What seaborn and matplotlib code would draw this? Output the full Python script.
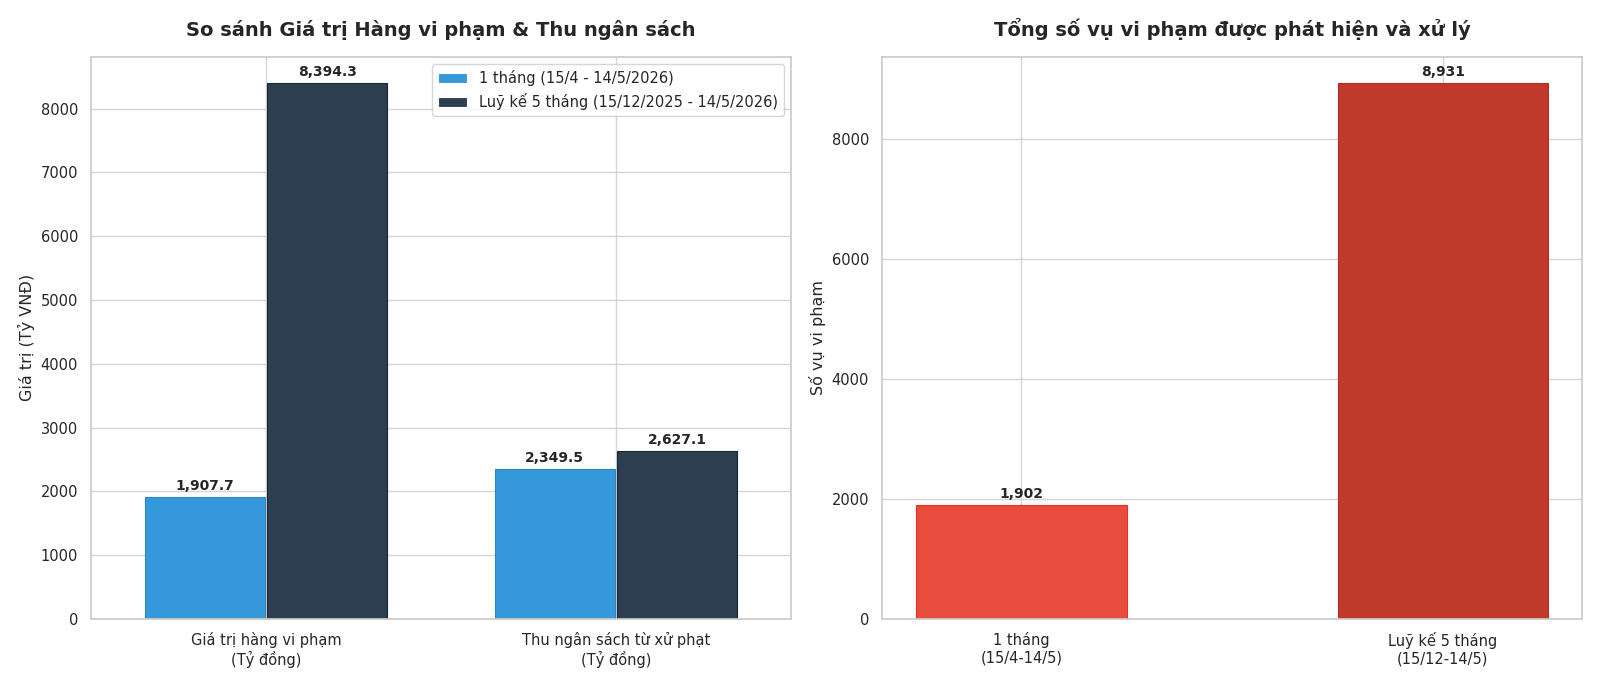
import pandas as pd
import matplotlib.pyplot as plt
import seaborn as sns

# data
categories = ["Giá trị hàng vi phạm\n(Tỷ đồng)", "Thu ngân sách từ xử phạt\n(Tỷ đồng)"]
series_names = ["1 tháng (15/4 - 14/5/2026)", "Luỹ kế 5 tháng (15/12/2025 - 14/5/2026)"]
one_month = [1907.7, 2349.5]
five_months = [8394.3, 2627.1]

case_labels = ["1 tháng\n(15/4-14/5)", "Luỹ kế 5 tháng\n(15/12-14/5)"]
case_counts = [1902, 8931]

sns.set_theme(style="whitegrid")
plt.rcParams['font.family'] = ['DejaVu Sans']

left_df = pd.DataFrame({
    'cat': categories * 2,
    'series': [series_names[0]] * 2 + [series_names[1]] * 2,
    'val': one_month + five_months,
})
right_df = pd.DataFrame({'cat': case_labels, 'val': case_counts})

fig, (ax1, ax2) = plt.subplots(1, 2, figsize=(16, 6.86), dpi=100)

sns.barplot(data=left_df, x='cat', y='val', hue='series', ax=ax1,
            palette=['#3498db', '#2c3e50'], width=0.7, gap=0.02,
            linewidth=0.8, saturation=1)
for patch, ec in zip(ax1.patches, ['#2e86c1', '#2e86c1', '#1a2533', '#1a2533']):
    patch.set_edgecolor(ec)
for c in ax1.containers:
    ax1.bar_label(c, labels=[f"{v:,.1f}" for v in c.datavalues], padding=3,
                  fontsize=10, fontweight='bold')
ax1.set_title("So sánh Giá trị Hàng vi phạm & Thu ngân sách", fontsize=14,
              fontweight='bold', pad=15)
ax1.set_xlabel("")
ax1.set_ylabel("Giá trị (Tỷ VNĐ)", fontsize=11.5)
ax1.set_ylim(0, 8810)
ax1.legend(title=None, loc='upper right', fontsize=10.5)

sns.barplot(data=right_df, x='cat', y='val', hue='cat', ax=ax2,
            palette=['#e74c3c', '#c0392b'], width=0.5, legend=False,
            linewidth=0.8, saturation=1)
for patch, ec in zip(ax2.patches, ['#e8331f', '#a93226']):
    patch.set_edgecolor(ec)
for c in ax2.containers:
    ax2.bar_label(c, labels=[f"{v:,.0f}" for v in c.datavalues], padding=3,
                  fontsize=10, fontweight='bold')
ax2.set_title("Tổng số vụ vi phạm được phát hiện và xử lý", fontsize=14,
              fontweight='bold', pad=15)
ax2.set_xlabel("")
ax2.set_ylabel("Số vụ vi phạm", fontsize=11.5)
ax2.set_ylim(0, 9370)
ax2.set_xlim(-0.33, 1.33)

for ax in (ax1, ax2):
    ax.tick_params(labelsize=10.5)
    ax.grid(True, axis='both', color='#d5d5d5')
    ax.set_axisbelow(True)
    for s in ax.spines.values():
        s.set_color('#cccccc')

plt.tight_layout()
plt.savefig('out.png', dpi=100)
plt.close()
